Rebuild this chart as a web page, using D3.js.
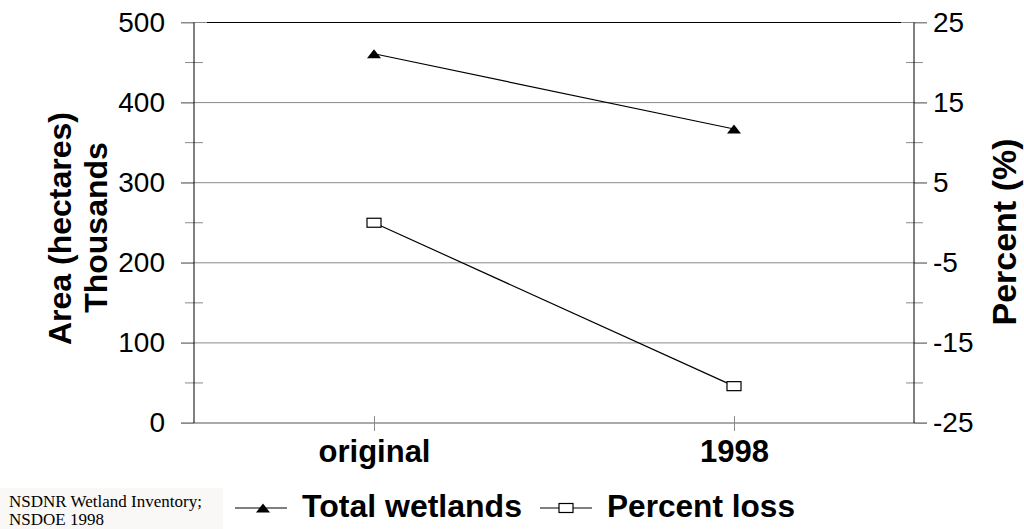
<!DOCTYPE html>
<html>
<head>
<meta charset="utf-8">
<script src="https://cdn.jsdelivr.net/npm/d3@7"></script>
<style>
  html, body { margin: 0; padding: 0; background: #fff; }
  svg { display: block; font-family: "Liberation Sans", Arial, sans-serif; }
</style>
</head>
<body>
<svg id="chart" width="1024" height="529"></svg>
<script>
// Wetland area (thousands of hectares) and percent loss
const categories = ["original", "1998"];
const totalWetlands = [461, 367];
const percentLoss = [0, -20.4];
const leftTicks = [0, 100, 200, 300, 400, 500];
const rightTicks = [-25, -15, -5, 5, 15, 25];
const rightMinorTicks = [-20, -10, 0, 10, 20];
const leftMinorTicks = [50, 150, 250, 350, 450];

const FONT = "Liberation Sans, Arial, sans-serif";
const svg = d3.select("#chart");
const m = { left: 194, right: 914, top: 22.5, bottom: 423 };

const x = d3.scalePoint().domain(categories).range([m.left, m.right]).padding(0.5);
const yL = d3.scaleLinear().domain([0, 500]).range([m.bottom, m.top]);
const yR = d3.scaleLinear().domain([-25, 25]).range([m.bottom, m.top]);

// horizontal gridlines
svg.append("g").selectAll("line").data(leftTicks.slice(1, -1)).join("line")
  .attr("x1", m.left - 13).attr("x2", m.right + 13)
  .attr("y1", d => yL(d)).attr("y2", d => yL(d))
  .attr("stroke", "#8a8a8a").attr("stroke-width", 1);

// top border and bottom axis line
svg.append("line").attr("x1", m.left - 13).attr("x2", m.right + 13)
  .attr("y1", m.top).attr("y2", m.top).attr("stroke", "#8a8a8a");
svg.append("line").attr("x1", m.left + 13).attr("x2", m.right - 13)
  .attr("y1", m.top).attr("y2", m.top).attr("stroke", "#000");
svg.append("line").attr("x1", m.left - 13).attr("x2", m.right + 13)
  .attr("y1", m.bottom).attr("y2", m.bottom).attr("stroke", "#555");

// left axis
const leftAxis = d3.axisLeft(yL).tickValues(leftTicks).tickSize(13).tickPadding(16)
  .tickFormat(d => String(d));
const gl = svg.append("g").attr("transform", `translate(${m.left},0)`).call(leftAxis);
gl.select(".domain").remove();
gl.selectAll(".tick line").attr("stroke", "#8a8a8a");
gl.selectAll(".tick text").attr("font-size", 28).attr("font-family", FONT).attr("fill", "#000");
svg.append("g").selectAll("line").data(leftMinorTicks).join("line")
  .attr("x1", m.left - 9).attr("x2", m.left + 9)
  .attr("y1", d => yL(d)).attr("y2", d => yL(d)).attr("stroke", "#8a8a8a");
svg.append("line").attr("x1", m.left).attr("x2", m.left)
  .attr("y1", m.top).attr("y2", m.bottom).attr("stroke", "#000");

// right axis
const rightAxis = d3.axisRight(yR).tickValues(rightTicks).tickSize(13).tickPadding(6)
  .tickFormat(d => String(d));
const gr = svg.append("g").attr("transform", `translate(${m.right},0)`).call(rightAxis);
gr.select(".domain").remove();
gr.selectAll(".tick line").attr("stroke", "#8a8a8a");
gr.selectAll(".tick text").attr("font-size", 28).attr("font-family", FONT).attr("fill", "#000");
svg.append("g").selectAll("line").data(rightMinorTicks).join("line")
  .attr("x1", m.right - 8).attr("x2", m.right + 9)
  .attr("y1", d => yR(d)).attr("y2", d => yR(d)).attr("stroke", "#8a8a8a");
svg.append("line").attr("x1", m.right).attr("x2", m.right)
  .attr("y1", m.top).attr("y2", m.bottom).attr("stroke", "#000");

// category axis
const bottomAxis = d3.axisBottom(x).tickSize(8).tickPadding(9);
const gb = svg.append("g").attr("transform", `translate(0,${m.bottom})`).call(bottomAxis);
gb.select(".domain").remove();
gb.selectAll(".tick line").attr("stroke", "#8a8a8a").attr("y1", -7);
gb.selectAll(".tick text").attr("font-size", 31).attr("font-weight", "bold")
  .attr("font-family", FONT).attr("fill", "#000");

// series lines
const lineL = d3.line().x((d, i) => x(categories[i])).y(d => yL(d));
const lineR = d3.line().x((d, i) => x(categories[i])).y(d => yR(d));
svg.append("path").attr("d", lineL(totalWetlands)).attr("fill", "none").attr("stroke", "#000").attr("stroke-width", 1.2);
svg.append("path").attr("d", lineR(percentLoss)).attr("fill", "none").attr("stroke", "#000").attr("stroke-width", 1.2);

// markers
const tri = (cx, cy) => `M${cx - 7},${cy + 4.5}L${cx},${cy - 4.5}L${cx + 7},${cy + 4.5}Z`;
svg.append("g").selectAll("path").data(totalWetlands).join("path")
  .attr("d", (d, i) => tri(x(categories[i]), yL(d))).attr("fill", "#000");
svg.append("g").selectAll("rect").data(percentLoss).join("rect")
  .attr("x", (d, i) => x(categories[i]) - 7).attr("y", d => yR(d) - 4.5)
  .attr("width", 14).attr("height", 9).attr("fill", "#fff").attr("stroke", "#000").attr("stroke-width", 1.2);

// axis titles
svg.append("text").attr("transform", "translate(71,228.5) rotate(-90)")
  .attr("text-anchor", "middle").attr("font-size", 32).attr("font-weight", "bold").text("Area (hectares)");
svg.append("text").attr("transform", "translate(107,227.5) rotate(-90)")
  .attr("text-anchor", "middle").attr("font-size", 32).attr("font-weight", "bold").text("Thousands");
svg.append("text").attr("transform", "translate(1016,232) rotate(-90)")
  .attr("text-anchor", "middle").attr("font-size", 34).attr("font-weight", "bold").text("Percent (%)");

// legend
const lg = svg.append("g");
lg.append("line").attr("x1", 235).attr("x2", 287).attr("y1", 508).attr("y2", 508).attr("stroke", "#000");
lg.append("path").attr("d", tri(263, 508)).attr("fill", "#000");
lg.append("text").attr("x", 302).attr("y", 517).attr("font-size", 31).attr("font-weight", "bold")
  .attr("textLength", 220).attr("lengthAdjust", "spacingAndGlyphs").text("Total wetlands");
lg.append("line").attr("x1", 540).attr("x2", 592).attr("y1", 508).attr("y2", 508).attr("stroke", "#000");
lg.append("rect").attr("x", 559).attr("y", 503.5).attr("width", 14).attr("height", 9)
  .attr("fill", "#fff").attr("stroke", "#000").attr("stroke-width", 1.2);
lg.append("text").attr("x", 607).attr("y", 517).attr("font-size", 31).attr("font-weight", "bold")
  .attr("textLength", 188).attr("lengthAdjust", "spacingAndGlyphs").text("Percent loss");

// source note
svg.append("rect").attr("x", 0).attr("y", 488).attr("width", 223).attr("height", 41).attr("fill", "#f9f8f6");
const src = svg.append("text").attr("font-family", "Liberation Serif, Times New Roman, serif").attr("font-size", 17).attr("fill", "#000");
src.append("tspan").attr("x", 9).attr("y", 507).text("NSDNR Wetland Inventory;");
src.append("tspan").attr("x", 9).attr("y", 525).text("NSDOE 1998");
</script>
</body>
</html>
